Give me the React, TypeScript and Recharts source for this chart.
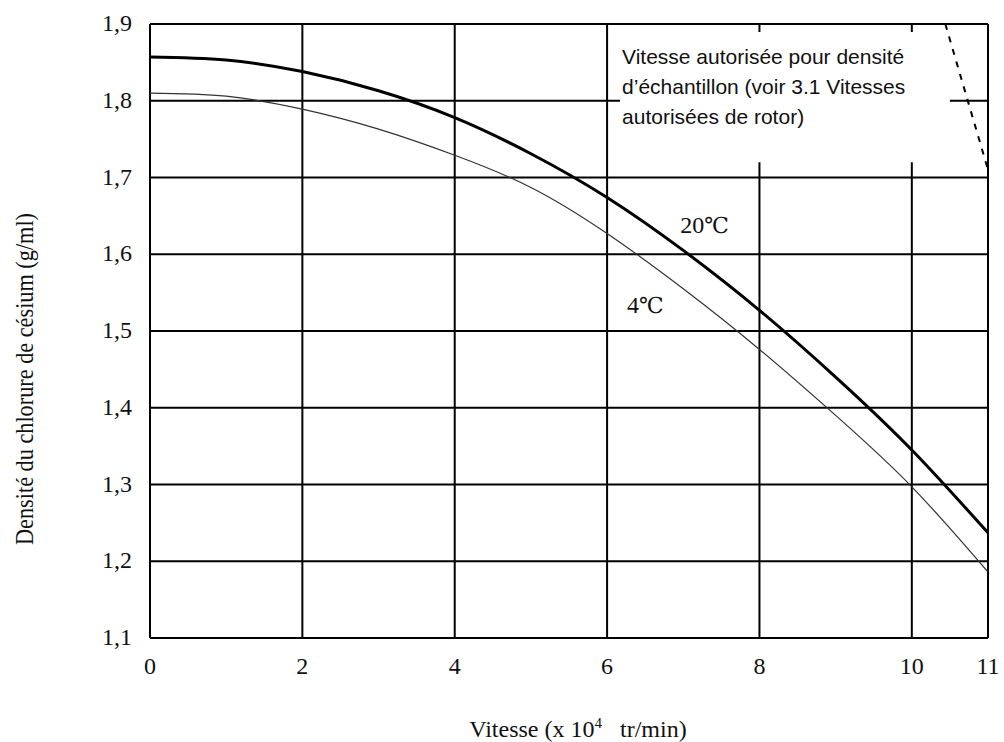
import React from 'react';
import { LineChart, Line, XAxis, YAxis, CartesianGrid, ReferenceArea, ReferenceDot, Label } from 'recharts';

// vitesse (x 10^4 tr/min)
const speeds = [0, 1, 2, 3, 4, 5, 6, 7, 8, 9, 10, 11];
// densité CsCl (g/ml)
const density20 = [1.857, 1.853, 1.838, 1.813, 1.778, 1.731, 1.674, 1.605, 1.527, 1.44, 1.345, 1.237];
const density4 = [1.81, 1.806, 1.789, 1.763, 1.729, 1.687, 1.627, 1.555, 1.476, 1.39, 1.297, 1.186];
// limite (pointillés)
const limitSpeeds = [10.44, 11];
const limitDensity = [1.9, 1.71];

const xTicks = [0, 2, 4, 6, 8, 10, 11];
const yTicks = [1.1, 1.2, 1.3, 1.4, 1.5, 1.6, 1.7, 1.8, 1.9];

const noteLines = ['Vitesse autorisée pour densité', 'd’échantillon (voir 3.1 Vitesses', 'autorisées de rotor)'];
const noteBox = { x1: 6.17, x2: 10.5, y1: 1.72, y2: 1.8896 };

const curve20 = speeds.map((x, i) => ({ x, y: density20[i] }));
const curve4 = speeds.map((x, i) => ({ x, y: density4[i] }));
const limit = limitSpeeds.map((x, i) => ({ x, y: limitDensity[i] }));

const serif = 'Liberation Serif';

const XTick = (props: any) => {
  const { x, y, payload } = props;
  return (
    <text x={x} y={y + 36} textAnchor="middle" fontSize={24} fontFamily={serif} fill="#111">
      {payload.value}
    </text>
  );
};

const YTick = (props: any) => {
  const { x, y, payload } = props;
  return (
    <text x={x} y={y + 7} textAnchor="end" fontSize={24} fontFamily={serif} fill="#111">
      {payload.value.toFixed(1).replace('.', ',')}
    </text>
  );
};

const tempLabel = (text: string) => (props: any) => {
  const vb = props.viewBox || {};
  return (
    <text x={vb.x} y={vb.y} fontSize={24} fill="#111">
      <tspan fontFamily={serif}>{text}</tspan>
      <tspan fontFamily="DejaVu Serif, Noto Sans CJK JP" fontSize={22}>℃</tspan>
    </text>
  );
};

const noteLabel = (props: any) => {
  const vb = props.viewBox || {};
  return (
    <text fontSize={21} fontFamily="Liberation Sans" fill="#111">
      {noteLines.map((l, i) => (
        <tspan key={i} x={vb.x + 2} y={vb.y + 32 + i * 30}>
          {l}
        </tspan>
      ))}
    </text>
  );
};

const xTitle = () => (
  <text x={578} y={737} textAnchor="middle" fontSize={24} fontFamily={serif} fill="#111">
    Vitesse (x 10<tspan fontSize={15} dy={-9}>4</tspan>
    <tspan dy={9}>{'\u00a0\u00a0\u00a0tr/min)'}</tspan>
  </text>
);

const yTitle = () => (
  <text
    x={33}
    y={379}
    transform="rotate(-90 33 379)"
    textAnchor="middle"
    fontSize={25}
    fontFamily={serif}
    fill="#111"
    textLength={332}
    lengthAdjust="spacingAndGlyphs"
  >
    Densité du chlorure de césium (g/ml)
  </text>
);

export default function App() {
  return (
    <div style={{ position: 'absolute', left: 0, top: 0, background: '#fff' }}>
      <LineChart width={1004} height={742} margin={{ top: 24, right: 16, bottom: 74, left: 90 }}>
        <CartesianGrid stroke="#000" strokeWidth={2} />
        <XAxis
          type="number"
          dataKey="x"
          domain={[0, 11]}
          ticks={xTicks}
          axisLine={false}
          tickLine={false}
          tickSize={0}
          tickMargin={0}
          height={30}
          tick={XTick}
        >
          <Label content={xTitle} />
        </XAxis>
        <YAxis
          type="number"
          dataKey="y"
          domain={[1.1, 1.9]}
          ticks={yTicks}
          axisLine={false}
          tickLine={false}
          tickSize={0}
          tickMargin={18}
          width={60}
          tick={YTick}
        >
          <Label content={yTitle} />
        </YAxis>
        <ReferenceArea
          x1={noteBox.x1}
          x2={noteBox.x2}
          y1={noteBox.y1}
          y2={noteBox.y2}
          fill="#fff"
          fillOpacity={1}
          stroke="none"
          label={noteLabel}
        />
        <Line data={curve4} dataKey="y" type="natural" stroke="#333" strokeWidth={1.2} dot={false} isAnimationActive={false} />
        <Line data={curve20} dataKey="y" type="natural" stroke="#000" strokeWidth={3} dot={false} isAnimationActive={false} />
        <Line data={limit} dataKey="y" type="linear" stroke="#000" strokeWidth={2} strokeDasharray="6 7" dot={false} isAnimationActive={false} />
        <ReferenceDot x={6.96} y={1.628} r={0} fill="none" stroke="none" label={tempLabel('20')} />
        <ReferenceDot x={6.26} y={1.5234} r={0} fill="none" stroke="none" label={tempLabel('4')} />
      </LineChart>
    </div>
  );
}
